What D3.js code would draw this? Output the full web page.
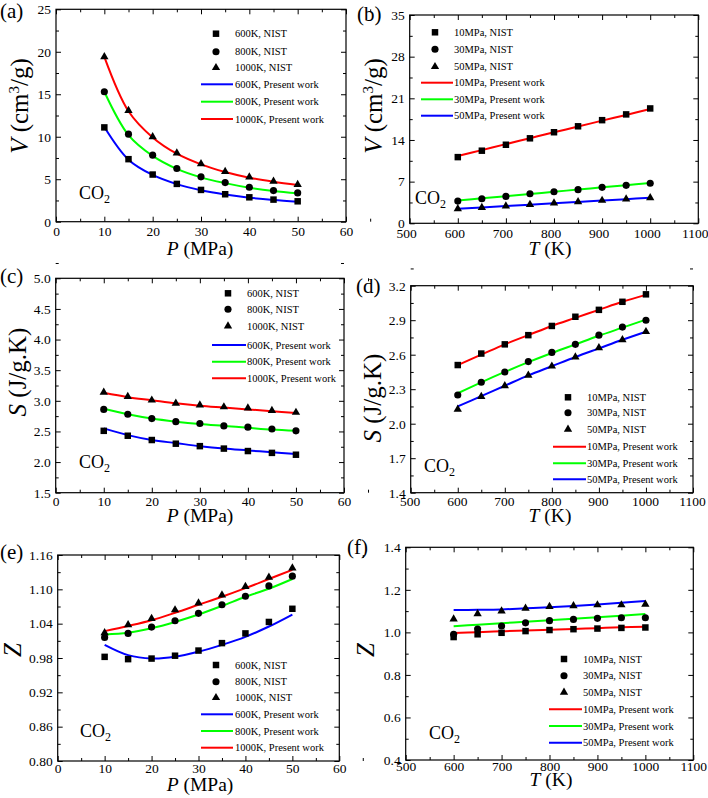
<!DOCTYPE html>
<html>
<head>
<meta charset="utf-8">
<script src="https://cdn.jsdelivr.net/npm/d3@7"></script>
<style>
body { margin: 0; background: #fff; }
svg { display: block; }
text { font-family: "Liberation Serif", "Times New Roman", serif; fill: #000; }
</style>
</head>
<body>
<svg id="svg"></svg>
<script>

const width = 708;
const height = 798;

// x values
const pressure = [10, 15, 20, 25, 30, 35, 40, 45, 50];
const temperature = [600, 650, 700, 750, 800, 850, 900, 950, 1000];

// (a) V vs P
const vNist600 = [11.1, 7.36, 5.55, 4.45, 3.74, 3.23, 2.87, 2.6, 2.4];
const vNist800 = [15.3, 10.3, 7.83, 6.26, 5.28, 4.6, 4.06, 3.66, 3.39];
const vNist1000 = [19.4, 13.07, 10.0, 8.07, 6.8, 5.9, 5.24, 4.76, 4.37];
const vWork600 = [11.15, 7.3, 5.5, 4.42, 3.7, 3.2, 2.83, 2.56, 2.35];
const vWork800 = [15.3, 10.2, 7.75, 6.22, 5.22, 4.54, 4.0, 3.62, 3.34];
const vWork1000 = [19.4, 13.0, 9.92, 8.0, 6.75, 5.85, 5.18, 4.7, 4.32];

// (b) V vs T
const vNist10 = [11.12, 12.2, 13.2, 14.28, 15.3, 16.3, 17.33, 18.3, 19.3];
const vNist30 = [3.73, 4.12, 4.52, 4.97, 5.3, 5.65, 6.04, 6.38, 6.72];
const vNist50 = [2.43, 2.65, 2.88, 3.16, 3.39, 3.61, 3.84, 4.07, 4.29];
const vWork10 = [11.3, 12.3, 13.3, 14.3, 15.3, 16.25, 17.25, 18.2, 19.2];
const vWork30 = [3.84, 4.2, 4.56, 4.93, 5.3, 5.67, 6.04, 6.41, 6.78];
const vWork50 = [2.43, 2.66, 2.9, 3.13, 3.36, 3.59, 3.83, 4.06, 4.29];

// (c) S vs P
const sNist600 = [2.51, 2.43, 2.36, 2.30, 2.26, 2.22, 2.18, 2.15, 2.12];
const sNist800 = [2.86, 2.78, 2.71, 2.66, 2.63, 2.59, 2.57, 2.54, 2.51];
const sNist1000 = [3.14, 3.07, 3.01, 2.96, 2.93, 2.90, 2.88, 2.84, 2.81];
const sWork600 = [2.55, 2.44, 2.36, 2.31, 2.26, 2.22, 2.19, 2.16, 2.13];
const sWork800 = [2.87, 2.78, 2.71, 2.66, 2.62, 2.59, 2.56, 2.53, 2.51];
const sWork1000 = [3.13, 3.06, 3.01, 2.96, 2.92, 2.89, 2.86, 2.83, 2.80];

// (d) S vs T
const sNist10 = [2.51, 2.61, 2.69, 2.77, 2.85, 2.93, 2.99, 3.06, 3.125];
const sNist30 = [2.25, 2.36, 2.45, 2.54, 2.62, 2.69, 2.77, 2.84, 2.90];
const sNist50 = [2.125, 2.235, 2.33, 2.42, 2.50, 2.58, 2.66, 2.73, 2.80];
const sWork10 = [2.51, 2.60, 2.69, 2.77, 2.85, 2.92, 2.99, 3.06, 3.12];
const sWork30 = [2.265, 2.36, 2.45, 2.535, 2.615, 2.69, 2.765, 2.835, 2.905];
const sWork50 = [2.15, 2.24, 2.33, 2.42, 2.50, 2.58, 2.655, 2.73, 2.80];

// (e) Z vs P
const zNist600 = [0.982, 0.978, 0.979, 0.984, 0.993, 1.006, 1.023, 1.043, 1.066];
const zNist800 = [1.016, 1.023, 1.034, 1.045, 1.058, 1.073, 1.088, 1.106, 1.123];
const zNist1000 = [1.024, 1.038, 1.049, 1.064, 1.076, 1.090, 1.105, 1.121, 1.137];
const zWork600 = [1.003, 0.985, 0.979, 0.982, 0.991, 1.003, 1.017, 1.035, 1.056];
const zWork800 = [1.021, 1.024, 1.032, 1.043, 1.056, 1.071, 1.087, 1.101, 1.118];
const zWork1000 = [1.027, 1.036, 1.046, 1.059, 1.073, 1.087, 1.102, 1.118, 1.134];

// (f) Z vs T
const zNist10 = [0.978, 0.991, 0.998, 1.006, 1.011, 1.015, 1.018, 1.021, 1.023];
const zNist30 = [0.991, 1.016, 1.03, 1.045, 1.055, 1.061, 1.066, 1.069, 1.069];
const zNist50 = [1.063, 1.087, 1.10, 1.113, 1.121, 1.125, 1.129, 1.129, 1.132];
const zWork10 = [0.997, 1.001, 1.005, 1.009, 1.012, 1.016, 1.020, 1.024, 1.027];
const zWork30 = [1.029, 1.036, 1.043, 1.050, 1.057, 1.064, 1.071, 1.078, 1.086];
const zWork50 = [1.105, 1.106, 1.108, 1.113, 1.118, 1.124, 1.131, 1.139, 1.148];

// legend labels
const tempLabels = ["600K", "800K", "1000K"];
const presLabels = ["10MPa", "30MPa", "50MPa"];

const RED = "#ff0000", GREEN = "#00ff00", BLUE = "#0000ff";
const symbols = [d3.symbolSquare, d3.symbolCircle, d3.symbolTriangle];
const symbolSizes = [42, 40, 30];

const svg = d3.select("#svg")
	.attr("width", width)
	.attr("height", height)
	.attr("viewBox", `0 0 ${width} ${height}`);

svg.append("rect").attr("width", width).attr("height", height).attr("fill", "white");

function steps(a, b, s) {
	return d3.range(0, Math.round((b - a) / s) + 1).map(i => +(a + i * s).toFixed(4));
}

const panels = [
	{
		tag: "(a)", tagPos: [0, 18],
		box: [56, 346, 9.3, 221.7], xPad: 5, xDx: 0,
		xDomain: [0, 60], xStep: 10, xFmt: d3.format("d"),
		yDomain: [0, 25], yStep: 5, yFmt: d3.format("d"),
		xs: pressure, nist: [vNist600, vNist800, vNist1000], work: [vWork600, vWork800, vWork1000],
		colors: [BLUE, GREEN, RED], labels: tempLabels,
		xTitle: "P", xUnit: " (MPa)", xTitlePos: [200, 255],
		yTitle: "V", yTitlePos: [28, 106], yKind: "V",
		co2: [79, 199],
		legend: { mx: 216, tx: 235, l0: 201, l1: 233, rows: [33.7, 51.7, 67.7, 84.3, 101.7, 119] }
	},
	{
		tag: "(b)", tagPos: [357, 21],
		box: [409.7, 698.3, 15, 223.3], xPad: 5, xDx: -3.5,
		xDomain: [500, 1100], xStep: 100, xFmt: d3.format("d"),
		yDomain: [0, 35], yStep: 7, yFmt: d3.format("d"),
		xs: temperature, nist: [vNist10, vNist30, vNist50], work: [vWork10, vWork30, vWork50],
		colors: [RED, GREEN, BLUE], labels: presLabels,
		xTitle: "T", xUnit: " (K)", xTitlePos: [550, 255],
		yTitle: "V", yTitlePos: [382, 106], yKind: "V",
		co2: [415, 204],
		legend: { mx: 435, tx: 454, l0: 421, l1: 453, rows: [32.3, 49.3, 66.7, 82.7, 99.3, 115.7] }
	},
	{
		tag: "(c)", tagPos: [0, 283],
		box: [55.7, 344, 278.3, 492.7], xPad: 4, xDx: 0,
		xDomain: [0, 60], xStep: 10, xFmt: d3.format("d"),
		yDomain: [1.5, 5.0], yStep: 0.5, yFmt: d3.format(".1f"),
		xs: pressure, nist: [sNist600, sNist800, sNist1000], work: [sWork600, sWork800, sWork1000],
		colors: [BLUE, GREEN, RED], labels: tempLabels,
		xTitle: "P", xUnit: " (MPa)", xTitlePos: [200, 522],
		yTitle: "S", yTitlePos: [26, 372], yKind: "S",
		co2: [79, 468],
		legend: { mx: 228, tx: 247, l0: 212, l1: 246, rows: [293.3, 309.3, 326, 345, 361.7, 378.3] }
	},
	{
		tag: "(d)", tagPos: [356, 293],
		box: [410.7, 693, 285.7, 492.7], xPad: 4, xDx: -1,
		xDomain: [500, 1100], xStep: 100, xFmt: d3.format("d"),
		yDomain: [1.4, 3.2], yStep: 0.3, yFmt: d3.format(".1f"),
		xs: temperature, nist: [sNist10, sNist30, sNist50], work: [sWork10, sWork30, sWork50],
		colors: [RED, GREEN, BLUE], labels: presLabels,
		xTitle: "T", xUnit: " (K)", xTitlePos: [550, 522],
		yTitle: "S", yTitlePos: [381, 398], yKind: "S",
		co2: [424, 472],
		legend: { mx: 568, tx: 587, l0: 553, l1: 586, rows: [397.3, 412.7, 429.3, 446.7, 463.3, 479.3] }
	},
	{
		tag: "(e)", tagPos: [0, 559],
		box: [57.7, 339.3, 555, 761], xPad: 2, xDx: 0,
		xDomain: [0, 60], xStep: 10, xFmt: d3.format("d"),
		yDomain: [0.80, 1.16], yStep: 0.06, yFmt: d3.format(".2f"),
		xs: pressure, nist: [zNist600, zNist800, zNist1000], work: [zWork600, zWork800, zWork1000],
		colors: [BLUE, GREEN, RED], labels: tempLabels,
		xTitle: "P", xUnit: " (MPa)", xTitlePos: [200, 791],
		yTitle: "Z", yTitlePos: [21, 650], yKind: "Z",
		co2: [80, 737],
		legend: { mx: 216, tx: 235, l0: 201, l1: 233, rows: [665, 681.7, 697.7, 714.3, 731, 747.7] }
	},
	{
		tag: "(f)", tagPos: [347, 554],
		box: [405.7, 693.3, 547.3, 760], xPad: 1, xDx: 0,
		xDomain: [500, 1100], xStep: 100, xFmt: d3.format("d"),
		yDomain: [0.4, 1.4], yStep: 0.2, yFmt: d3.format(".1f"),
		xs: temperature, nist: [zNist10, zNist30, zNist50], work: [zWork10, zWork30, zWork50],
		colors: [RED, GREEN, BLUE], labels: presLabels,
		xTitle: "T", xUnit: " (K)", xTitlePos: [551, 786],
		yTitle: "Z", yTitlePos: [374, 650], yKind: "Z",
		co2: [429, 739],
		legend: { mx: 564, tx: 583, l0: 549, l1: 582, rows: [659, 675.7, 692.3, 709.3, 726, 742.7] }
	}
];

function drawPanel(p) {
	const [x0, x1, y0, y1] = p.box;
	const x = d3.scaleLinear().domain(p.xDomain).range([x0, x1]);
	const y = d3.scaleLinear().domain(p.yDomain).range([y1, y0]);
	const g = svg.append("g");

	const xMajor = steps(p.xDomain[0], p.xDomain[1], p.xStep);
	const xMinor = steps(p.xDomain[0] + p.xStep / 2, p.xDomain[1], p.xStep);
	const yMajor = steps(p.yDomain[0], p.yDomain[1], p.yStep);
	const yMinor = steps(p.yDomain[0] + p.yStep / 2, p.yDomain[1], p.yStep);

	const addAxis = (axis, tx, ty, labels) => {
		const a = g.append("g")
			.attr("transform", `translate(${tx},${ty})`)
			.call(axis);
		a.select(".domain").remove();
		a.selectAll("line").attr("stroke", "#000");
		a.selectAll("text")
			.style("font-family", "Liberation Serif, serif")
			.style("font-size", "13.5px");
		if (!labels) a.selectAll("text").remove();
		return a;
	};

	// major ticks, inward on all four sides
	addAxis(d3.axisBottom(x).tickValues(xMajor).tickSize(-5).tickPadding(p.xPad).tickFormat(p.xFmt), 0, y1, true)
		.selectAll("text").attr("dx", p.xDx);
	addAxis(d3.axisTop(x).tickValues(xMajor).tickSize(-5).tickFormat(""), 0, y0, false);
	addAxis(d3.axisLeft(y).tickValues(yMajor).tickSize(-5).tickPadding(5).tickFormat(p.yFmt), x0, 0, true);
	addAxis(d3.axisRight(y).tickValues(yMajor).tickSize(-5).tickFormat(""), x1, 0, false);
	// minor ticks
	addAxis(d3.axisBottom(x).tickValues(xMinor).tickSize(-3).tickFormat(""), 0, y1, false);
	addAxis(d3.axisTop(x).tickValues(xMinor).tickSize(-3).tickFormat(""), 0, y0, false);
	addAxis(d3.axisLeft(y).tickValues(yMinor).tickSize(-3).tickFormat(""), x0, 0, false);
	addAxis(d3.axisRight(y).tickValues(yMinor).tickSize(-3).tickFormat(""), x1, 0, false);

	g.append("rect")
		.attr("x", x0).attr("y", y0)
		.attr("width", x1 - x0).attr("height", y1 - y0)
		.attr("fill", "none").attr("stroke", "#000").attr("stroke-width", 1.2);

	// present work lines
	const line = d3.line()
		.x(d => x(d[0]))
		.y(d => y(d[1]))
		.curve(d3.curveCatmullRom.alpha(0.5));

	p.work.forEach((vals, i) => {
		g.append("path")
			.datum(p.xs.map((v, j) => [v, vals[j]]))
			.attr("d", line)
			.attr("fill", "none")
			.attr("stroke", p.colors[i])
			.attr("stroke-width", 2);
	});

	// NIST points
	p.nist.forEach((vals, i) => {
		const sym = d3.symbol().type(symbols[i]).size(symbolSizes[i]);
		g.selectAll(null)
			.data(p.xs.map((v, j) => [v, vals[j]]))
			.enter().append("path")
			.attr("d", sym)
			.attr("transform", d => `translate(${x(d[0])},${y(d[1])})`)
			.attr("fill", "#000");
	});

	// legend
	const L = p.legend;
	p.labels.forEach((lab, i) => {
		g.append("path")
			.attr("d", d3.symbol().type(symbols[i]).size(symbolSizes[i]))
			.attr("transform", `translate(${L.mx},${L.rows[i]})`)
			.attr("fill", "#000");
		g.append("text")
			.attr("x", L.tx).attr("y", L.rows[i])
			.attr("dy", "0.35em")
			.style("font-size", "10.5px")
			.text(`${lab}, NIST`);
	});
	p.labels.forEach((lab, i) => {
		const ry = L.rows[i + 3];
		g.append("line")
			.attr("x1", L.l0).attr("x2", L.l1)
			.attr("y1", ry).attr("y2", ry)
			.attr("stroke", p.colors[i]).attr("stroke-width", 2);
		g.append("text")
			.attr("x", L.tx).attr("y", ry)
			.attr("dy", "0.35em")
			.style("font-size", "10.5px")
			.text(`${lab}, Present work`);
	});

	// CO2 label
	const co = g.append("text")
		.attr("x", p.co2[0]).attr("y", p.co2[1])
		.style("font-size", "18px");
	co.append("tspan").text("CO");
	co.append("tspan").attr("dy", 4).style("font-size", "12px").text("2");

	// panel tag
	g.append("text")
		.attr("x", p.tagPos[0]).attr("y", p.tagPos[1])
		.style("font-size", "21px")
		.text(p.tag);

	// x title
	const xt = g.append("text")
		.attr("x", p.xTitlePos[0]).attr("y", p.xTitlePos[1])
		.attr("text-anchor", "middle")
		.style("font-size", "19.5px");
	xt.append("tspan").style("font-style", "italic").text(p.xTitle);
	xt.append("tspan").text(p.xUnit);

	// y title
	const yt = g.append("text")
		.attr("transform", `translate(${p.yTitlePos[0]},${p.yTitlePos[1]}) rotate(-90)`)
		.attr("text-anchor", "middle")
		.style("font-size", "25px");
	yt.append("tspan").style("font-style", "italic").text(p.yTitle);
	if (p.yKind === "V") {
		yt.append("tspan").text(" (cm");
		yt.append("tspan").attr("dy", -9).style("font-size", "15px").text("3");
		yt.append("tspan").attr("dy", 9).text("/g)");
	} else if (p.yKind === "S") {
		yt.append("tspan").text(" (J/g.K)");
	}
}

panels.forEach(drawPanel);

</script>
</body>
</html>
